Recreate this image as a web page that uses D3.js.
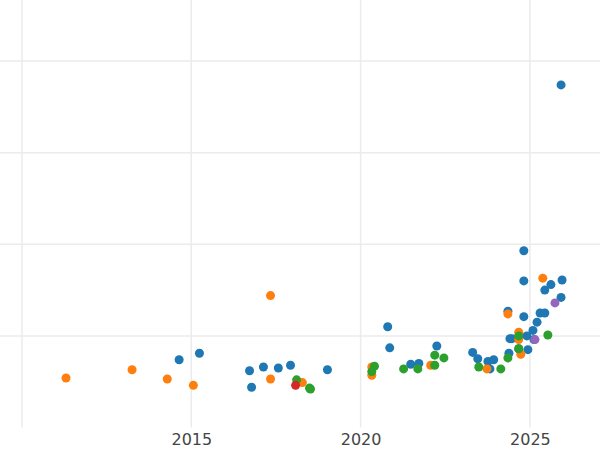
<!DOCTYPE html>
<html><head><meta charset="utf-8">
<script src="https://cdn.jsdelivr.net/npm/d3@7"></script>
<style>body{margin:0;background:#fff}</style></head>
<body><svg id="c" width="600" height="450"></svg>
<script>
const seriesNames=["A","B","C","D","E"];
const colors=["#1f77b4","#ff7f0e","#2ca02c","#d62728","#9467bd"];
const blueX=[2014.64,2015.24,2016.72,2016.78,2017.13,2017.57,2017.93,2019.02,2020.80,2020.86,2021.48,2021.72,2022.25,2023.31,2023.46,2023.76,2023.93,2023.82,2024.35,2024.38,2024.41,2024.47,2024.67,2024.82,2024.82,2024.82,2024.91,2024.94,2025.09,2025.21,2025.30,2025.44,2025.44,2025.62,2025.95,2025.92,2025.92,2025.12];
const blueY=[0.74,0.81,0.62,0.44,0.66,0.65,0.68,0.63,1.10,0.87,0.69,0.70,0.89,0.82,0.75,0.72,0.74,0.64,1.27,0.81,0.97,0.97,0.86,1.93,1.60,1.21,1.00,0.85,1.06,1.15,1.25,1.25,1.50,1.56,1.61,1.42,3.74,0.96];
const orangeX=[2011.30,2013.25,2014.29,2015.06,2017.34,2017.34,2018.28,2020.33,2020.33,2022.07,2023.73,2024.35,2024.67,2024.67,2024.73,2025.38];
const orangeY=[0.54,0.63,0.53,0.46,1.44,0.53,0.49,0.66,0.57,0.68,0.64,1.24,1.04,0.96,0.80,1.63];
const greenX=[2018.11,2018.49,2018.52,2020.41,2020.33,2021.27,2021.69,2022.19,2022.19,2022.46,2023.49,2024.14,2024.35,2024.67,2024.67,2025.53];
const greenY=[0.52,0.43,0.42,0.67,0.61,0.64,0.64,0.79,0.68,0.76,0.66,0.64,0.76,1.00,0.86,1.01];
const redX=[2018.08], redY=[0.46];
const purpleX=[2025.74,2025.15], purpleY=[1.36,0.96];
const xTicks=[2015,2020,2025];
const yTicks=[1,2,3,4];

const svg=d3.select("#c");
const x=d3.scaleLinear().domain([2009.35,2027.07]).range([0,600]);
const y=d3.scaleLinear().domain([0,4.667]).range([427.5,0]);
const g=svg.append("g");
g.selectAll("line.h").data(yTicks).join("line").attr("x1",0).attr("x2",600)
 .attr("y1",d=>y(d)).attr("y2",d=>y(d)).attr("stroke","#ebebeb").attr("stroke-width",1.5);
g.selectAll("line.v").data([2010,...xTicks]).join("line").attr("y1",0).attr("y2",427.5)
 .attr("x1",d=>x(d)).attr("x2",d=>x(d)).attr("stroke","#ebebeb").attr("stroke-width",1.5);
const ax=svg.append("g").attr("transform","translate(0,427.5)")
 .call(d3.axisBottom(x).tickValues(xTicks).tickFormat(d3.format("d")).tickSize(0).tickPadding(6));
ax.select(".domain").remove();
ax.selectAll("text").attr("font-family","DejaVu Sans").attr("font-size",16).attr("fill","#444");
const series=[[blueX,blueY],[orangeX,orangeY],[greenX,greenY],[redX,redY],[purpleX,purpleY]];
series.forEach(([xs,ys],i)=>{
 svg.append("g").selectAll("circle").data(xs.map((v,j)=>[v,ys[j]])).join("circle")
  .attr("cx",d=>x(d[0])).attr("cy",d=>y(d[1])).attr("r",4.5).attr("fill",colors[i]);
});
</script></body></html>
